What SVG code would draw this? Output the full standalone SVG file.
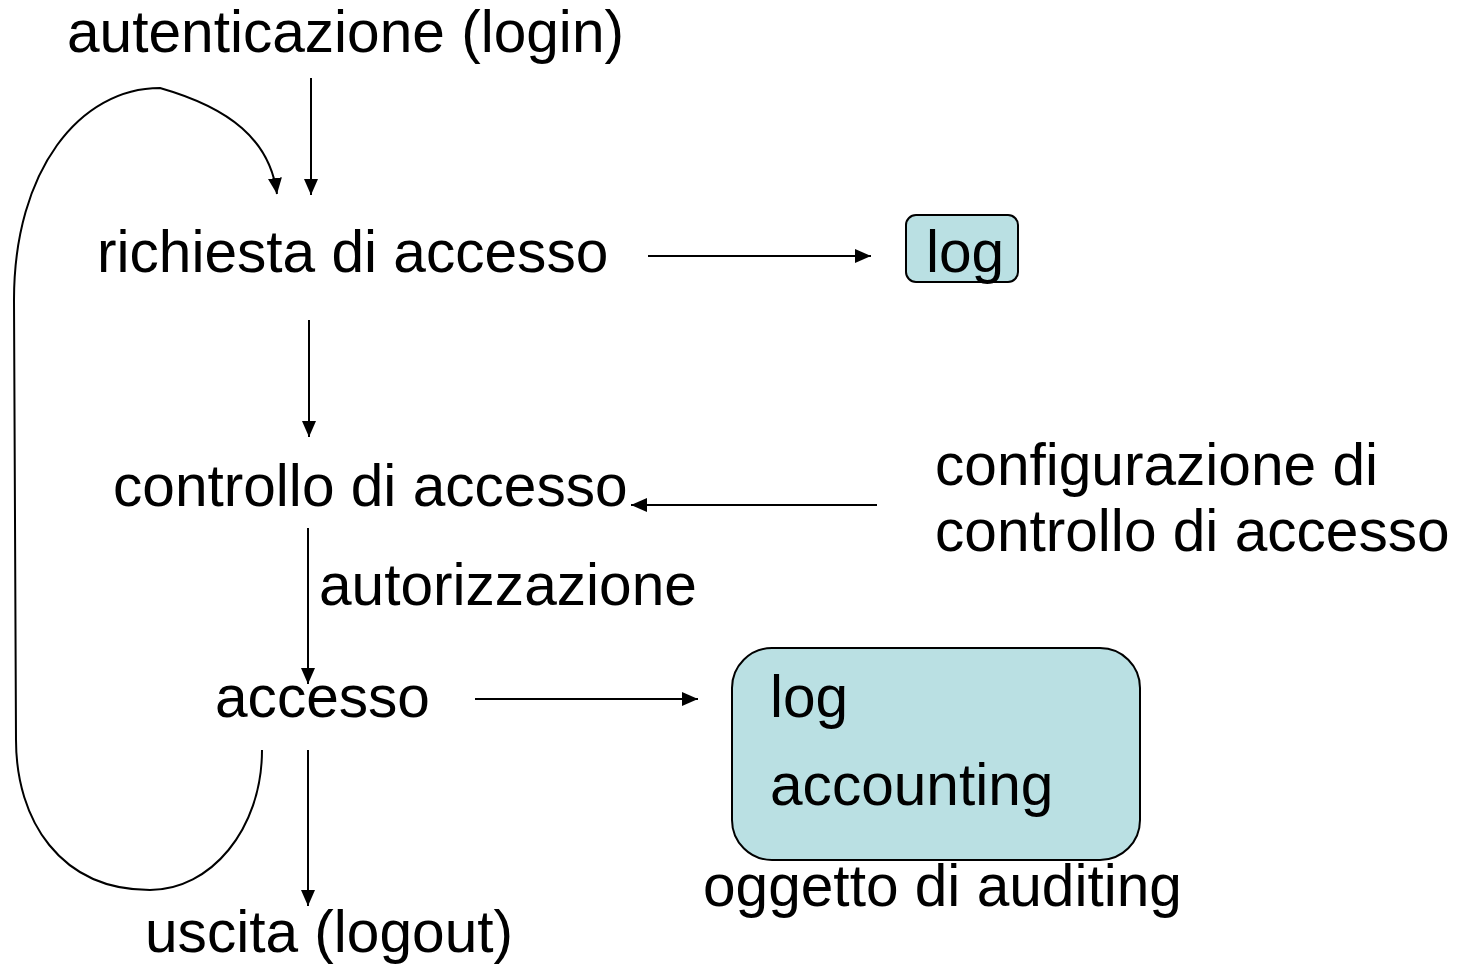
<svg xmlns="http://www.w3.org/2000/svg" width="1457" height="964" viewBox="0 0 1457 964">
<style>
text{font-family:"Liberation Sans",Arial,sans-serif;font-size:58.6px;fill:#000}
.c{fill:none;stroke:#000;stroke-width:2}
.box{fill:#BAE0E3;stroke:#000;stroke-width:2}
</style>
<defs>
<marker id="ah" markerUnits="userSpaceOnUse" markerWidth="18" markerHeight="16" refX="16" refY="8" orient="auto">
<path d="M0,1 L16,8 L0,15 Z" fill="#000"/>
</marker>
</defs>
<rect width="1457" height="964" fill="#fff"/>
<g id="connectors">
<line class="c" x1="311" y1="78" x2="311" y2="195" marker-end="url(#ah)"/>
<path class="c" d="M262,750 C262,830 210,890 150,890 C60,890 16,820 16,740 L14,300 C14,170 80,88 160,88 C230,108 270,140 277,194" marker-end="url(#ah)"/>
<line class="c" x1="648" y1="256" x2="871" y2="256" marker-end="url(#ah)"/>
<line class="c" x1="309" y1="320" x2="309" y2="437" marker-end="url(#ah)"/>
<line class="c" x1="877" y1="505" x2="631" y2="505" marker-end="url(#ah)"/>
<line class="c" x1="308" y1="528" x2="308" y2="684" marker-end="url(#ah)"/>
<line class="c" x1="475" y1="699" x2="698" y2="699" marker-end="url(#ah)"/>
<line class="c" x1="308" y1="750" x2="308" y2="906" marker-end="url(#ah)"/>
</g>
<g id="login"><text x="67" y="52">autenticazione (login)</text></g>
<g id="richiesta"><text x="97" y="272">richiesta di accesso</text></g>
<g id="log1"><rect class="box" x="906" y="215" width="112" height="67" rx="10"/><text x="926" y="272">log</text></g>
<g id="controllo"><text x="113" y="506">controllo di accesso</text></g>
<g id="config"><text x="935" y="485">configurazione di</text><text x="935" y="551">controllo di accesso</text></g>
<g id="autorizzazione"><text x="319" y="605">autorizzazione</text></g>
<g id="accesso"><text x="215" y="717">accesso</text></g>
<g id="audit"><rect class="box" x="732" y="648" width="408" height="212" rx="40"/><text x="770" y="717">log</text><text x="770" y="805">accounting</text><text x="703" y="906">oggetto di auditing</text></g>
<g id="logout"><text x="145" y="952">uscita (logout)</text></g>
</svg>
